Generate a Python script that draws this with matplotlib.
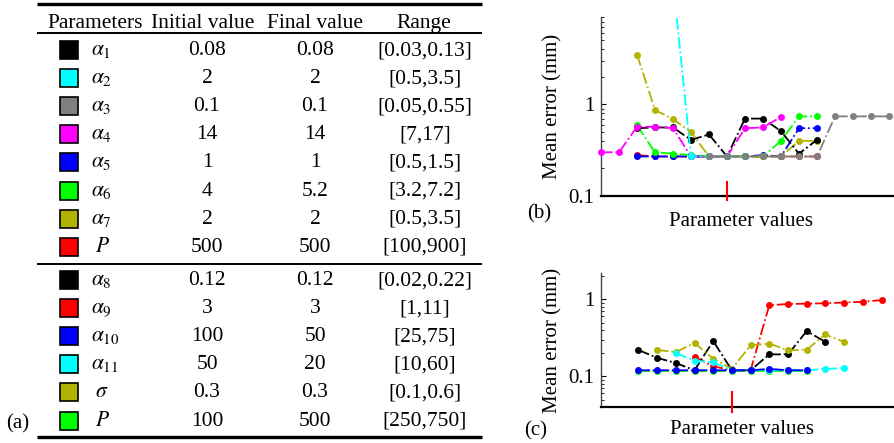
import numpy as np
import matplotlib
matplotlib.use("Agg")
import matplotlib.pyplot as plt
from matplotlib.patches import Rectangle
from matplotlib.ticker import LogLocator, FixedLocator, FixedFormatter, NullFormatter

plt.rcParams['font.family'] = 'serif'
plt.rcParams['font.serif'] = ['Liberation Serif', 'DejaVu Serif']
plt.rcParams['mathtext.fontset'] = 'stix'

# ---- table (a) ----
headers = ['Parameters', 'Initial value', 'Final value', 'Range']
names_1 = [r'$\alpha_1$', r'$\alpha_2$', r'$\alpha_3$', r'$\alpha_4$',
           r'$\alpha_5$', r'$\alpha_6$', r'$\alpha_7$', r'$P$']
colors_1 = ['#000000', '#00ffff', '#808080', '#ff00ff',
            '#0000ff', '#00ff00', '#b2b200', '#ff0000']
initial_1 = ['0.08', '2', '0.1', '14', '1', '4', '2', '500']
final_1 = ['0.08', '2', '0.1', '14', '1', '5.2', '2', '500']
range_1 = ['[0.03,0.13]', '[0.5,3.5]', '[0.05,0.55]', '[7,17]',
           '[0.5,1.5]', '[3.2,7.2]', '[0.5,3.5]', '[100,900]']

names_2 = [r'$\alpha_8$', r'$\alpha_9$', r'$\alpha_{10}$', r'$\alpha_{11}$',
           r'$\sigma$', r'$P$']
colors_2 = ['#000000', '#ff0000', '#0000ff', '#00ffff', '#b2b200', '#00ff00']
initial_2 = ['0.12', '3', '100', '50', '0.3', '100']
final_2 = ['0.12', '3', '50', '20', '0.3', '500']
range_2 = ['[0.02,0.22]', '[1,11]', '[25,75]', '[10,60]', '[0.1,0.6]', '[250,750]']

# ---- panel (b): first model, error vs parameter step ----
b_series = {
    'a1': (2, [0.55, 0.56, 0.56, 0.41, 0.47, 0.27, 0.70, 0.70, 0.51, 0.29, 0.41]),
    'a2': (4, [22.0, 0.27, 0.27, 0.27, 0.27]),
    'P': (2, [0.28, 0.27, 0.27, 0.27, 0.27, 0.27, 0.27, 0.27, 0.27, 0.27, 0.27]),
    'a5': (2, [0.27, 0.27, 0.27, 0.27, 0.27, 0.27, 0.27, 0.28, 0.27, 0.55, 0.55]),
    'a6': (2, [0.59, 0.30, 0.29, 0.28, 0.27, 0.27, 0.27, 0.27, 0.40, 0.74, 0.74]),
    'a7': (2, [3.5, 0.87, 0.69, 0.50, 0.27, 0.27, 0.27, 0.27, 0.27, 0.40, 0.40]),
    'a4': (0, [0.30, 0.30, 0.57, 0.57, 0.55, 0.27, 0.27, 0.27, 0.55, 0.56, 0.73]),
    'a3': (6, [0.27, 0.27, 0.27, 0.27, 0.27, 0.27, 0.27, 0.74, 0.74, 0.74, 0.74]),
}
b_colors = {'a1': '#000000', 'a2': '#00ffff', 'a3': '#808080', 'a4': '#ff00ff',
            'a5': '#0000ff', 'a6': '#00ff00', 'a7': '#b2b200', 'P': '#ff0000'}
b_order = ['P', 'a5', 'a6', 'a7', 'a1', 'a4', 'a2', 'a3']
b_initial_step = 7

# ---- panel (c): second model ----
c_series = {
    'P': (2, [0.118, 0.118, 0.118, 0.118, 0.118, 0.118, 0.118, 0.118, 0.118, 0.118]),
    'a9': (5, [0.18, 0.135, 0.12, 0.12, 0.84, 0.87, 0.88, 0.89, 0.91, 0.93, 0.98]),
    'a8': (2, [0.22, 0.174, 0.149, 0.12, 0.287, 0.12, 0.12, 0.193, 0.193, 0.387, 0.28]),
    's': (3, [0.22, 0.207, 0.271, 0.17, 0.125, 0.253, 0.266, 0.218, 0.222, 0.35, 0.28]),
    'a11': (4, [0.20, 0.16, 0.152, 0.12, 0.12, 0.12, 0.12, 0.12, 0.125, 0.128]),
    'a10': (2, [0.12, 0.12, 0.12, 0.12, 0.12, 0.12, 0.12, 0.125, 0.12, 0.12]),
}
c_colors = {'a8': '#000000', 'a9': '#ff0000', 'a10': '#0000ff', 'a11': '#00ffff',
            's': '#b2b200', 'P': '#00ff00'}
c_order = ['P', 'a9', 'a8', 's', 'a11', 'a10']
c_initial_step = 7

W, H = 894, 443
fig = plt.figure(figsize=(W / 100, H / 100), dpi=100)

# table drawn on a pixel-coordinate canvas
ax_t = fig.add_axes([0, 0, 1, 1])
ax_t.set_xlim(0, W)
ax_t.set_ylim(H, 0)
ax_t.axis('off')

tx0, tx1 = 37, 482
fs_t = 15.5
col_x = [95.5, 203, 315, 424]
for hx, h in zip(col_x, headers):
    ax_t.text(hx, 28, h, ha='center', va='baseline', fontsize=fs_t)
ax_t.plot([tx0, tx1], [4, 4], color='black', lw=2.4, solid_capstyle='butt')
ax_t.plot([tx0, tx1], [33.3, 33.3], color='black', lw=1.4, solid_capstyle='butt')
ax_t.plot([tx0, tx1], [264.3, 264.3], color='black', lw=1.4, solid_capstyle='butt')
ax_t.plot([tx0, tx1], [436.7, 436.7], color='black', lw=2.4, solid_capstyle='butt')


def draw_rows(names, colors, init, fin, rng, y0, step):
    for k in range(len(names)):
        yc = y0 + step * k
        ax_t.add_patch(Rectangle((60, yc - 9), 18, 18, facecolor=colors[k],
                                 edgecolor='black', lw=1.2))
        nx = 91 if 'alpha' in names[k] else 95
        ax_t.text(nx, yc + 5, names[k], ha='left', va='baseline', fontsize=fs_t)
        ax_t.text(207, yc + 5, init[k], ha='center', va='baseline', fontsize=fs_t)
        ax_t.text(315, yc + 5, fin[k], ha='center', va='baseline', fontsize=fs_t)
        ax_t.text(425, yc + 5, rng[k], ha='center', va='baseline', fontsize=fs_t)


draw_rows(names_1, colors_1, initial_1, final_1, range_1, 50, 28.1)
draw_rows(names_2, colors_2, initial_2, final_2, range_2, 280.2, 28.06)


def style_axes(ax, ylim, init_step, tick_lo, tick_hi):
    ax.set_yscale('log')
    ax.set_ylim(*ylim)
    ax.set_xticks([])
    ax.yaxis.set_major_locator(FixedLocator([0.1, 1]))
    ax.yaxis.set_major_formatter(FixedFormatter(['0.1', '1']))
    ax.yaxis.set_minor_locator(LogLocator(base=10, subs=np.arange(2, 10)))
    ax.yaxis.set_minor_formatter(NullFormatter())
    ax.tick_params(axis='y', which='major', direction='in', length=3.5, width=0.8,
                   labelsize=15, pad=5)
    ax.tick_params(axis='y', which='minor', direction='in', length=2, width=0.6)
    for s in ['top', 'right']:
        ax.spines[s].set_visible(False)
    ax.spines['left'].set_color('#444444')
    ax.spines['left'].set_linewidth(1.0)
    ax.spines['bottom'].set_linewidth(1.6)
    ax.axvline(init_step, ymin=tick_lo, ymax=tick_hi, color='red', lw=1.5,
               clip_on=False, zorder=5)
    ax.set_ylabel('Mean error (mm)', fontsize=15)
    ax.set_xlabel('Parameter values', fontsize=15)


def draw_series(ax, series, colors, order, ytop):
    for key in order:
        start, vals = series[key]
        xs = np.arange(start, start + len(vals))
        ax.plot(xs, vals, linestyle='-.', lw=1.3, color=colors[key],
                marker='o', markersize=5, markeredgewidth=0,
                clip_on=max(vals) > ytop, zorder=3)


# panel (b)
ax_b = fig.add_axes([601 / W, 1 - 196 / H, (W - 601) / W, 179 / H])
ax_b.set_xlim(0, (W - 601) / 18)
b_ylim = (0.1, 9.0)
draw_series(ax_b, b_series, b_colors, b_order, b_ylim[1])
style_axes(ax_b, b_ylim, b_initial_step, -4 / 179, 14 / 179)
ax_b.xaxis.set_label_coords(140 / 293, -0.09)

# panel (c)
ax_c = fig.add_axes([601 / W, 1 - 407 / H, (W - 601) / W, 134 / H])
ax_c.set_xlim(0, (W - 601) / 18.7)
c_ylim = (0.04, 2.2)
draw_series(ax_c, c_series, c_colors, c_order, c_ylim[1])
style_axes(ax_c, c_ylim, c_initial_step, -5 / 134, 15 / 134)
ax_c.xaxis.set_label_coords(141 / 293, -0.095)

fig.text(18 / W, 1 - 424 / H, '(a)', ha='center', va='center', fontsize=15)
fig.text(539 / W, 1 - 214 / H, '(b)', ha='center', va='center', fontsize=15)
fig.text(536 / W, 1 - 431 / H, '(c)', ha='center', va='center', fontsize=15)

fig.savefig('out.png', dpi=100)
